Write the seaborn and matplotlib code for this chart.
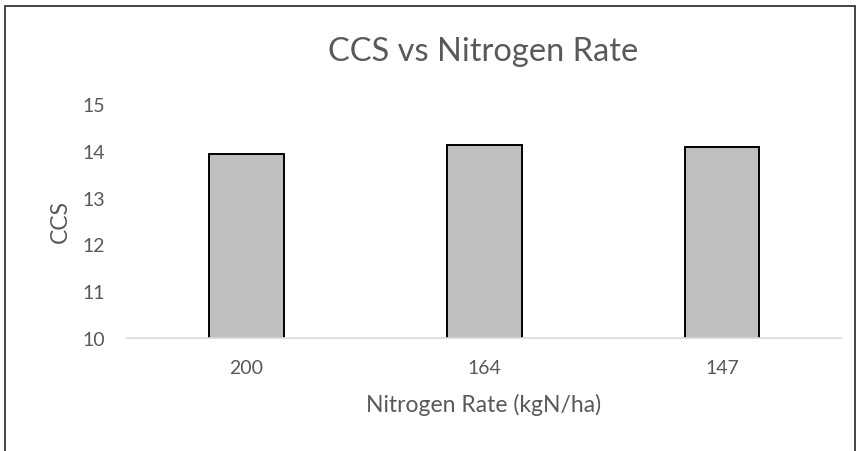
import matplotlib
matplotlib.use("Agg")
import matplotlib.pyplot as plt
import seaborn as sns
import pandas as pd
from matplotlib.patches import Rectangle

categories = ["200", "164", "147"]
ccs_values = [13.92, 14.12, 14.07]
y_ticks = [10, 11, 12, 13, 14, 15]

df = pd.DataFrame({"rate": categories, "ccs": ccs_values})

sns.set_theme(style="white")
plt.rcParams['font.family'] = ['Lato', 'DejaVu Sans']

text_col = "#595959"
fig = plt.figure(figsize=(8.59, 4.52), dpi=100)
ax = fig.add_axes([0.148, 0.25, 0.831, 0.518])

sns.barplot(data=df, x="rate", y="ccs", ax=ax, color="#BFBFBF",
            edgecolor="black", linewidth=1.4, width=0.315, saturation=1)

ax.set_ylim(10, 15)
ax.set_yticks(y_ticks)
ax.set_xlim(-0.5, 2.5)
for s in ["top", "right", "left"]:
    ax.spines[s].set_visible(False)
ax.spines["bottom"].set_color("#D9D9D9")
ax.spines["bottom"].set_linewidth(1.2)
ax.tick_params(axis="both", length=0, labelsize=14, colors=text_col)
ax.tick_params(axis="x", pad=15)
ax.tick_params(axis="y", pad=16)
ax.set_xlabel("Nitrogen Rate (kgN/ha)", fontsize=16.5, color=text_col, labelpad=12)
ax.set_ylabel("CCS", fontsize=16.5, color=text_col, labelpad=8)
ax.grid(False)

fig.text(0.563, 0.885, "CCS vs Nitrogen Rate", fontsize=23.5, color=text_col,
         ha="center", va="center")

fig.patches.append(Rectangle((5/859, -0.02), 850/859, 1 - 7/452 + 0.02,
                             transform=fig.transFigure, fill=False,
                             edgecolor="#262626", linewidth=1.2))

fig.savefig("out.png", dpi=100)
